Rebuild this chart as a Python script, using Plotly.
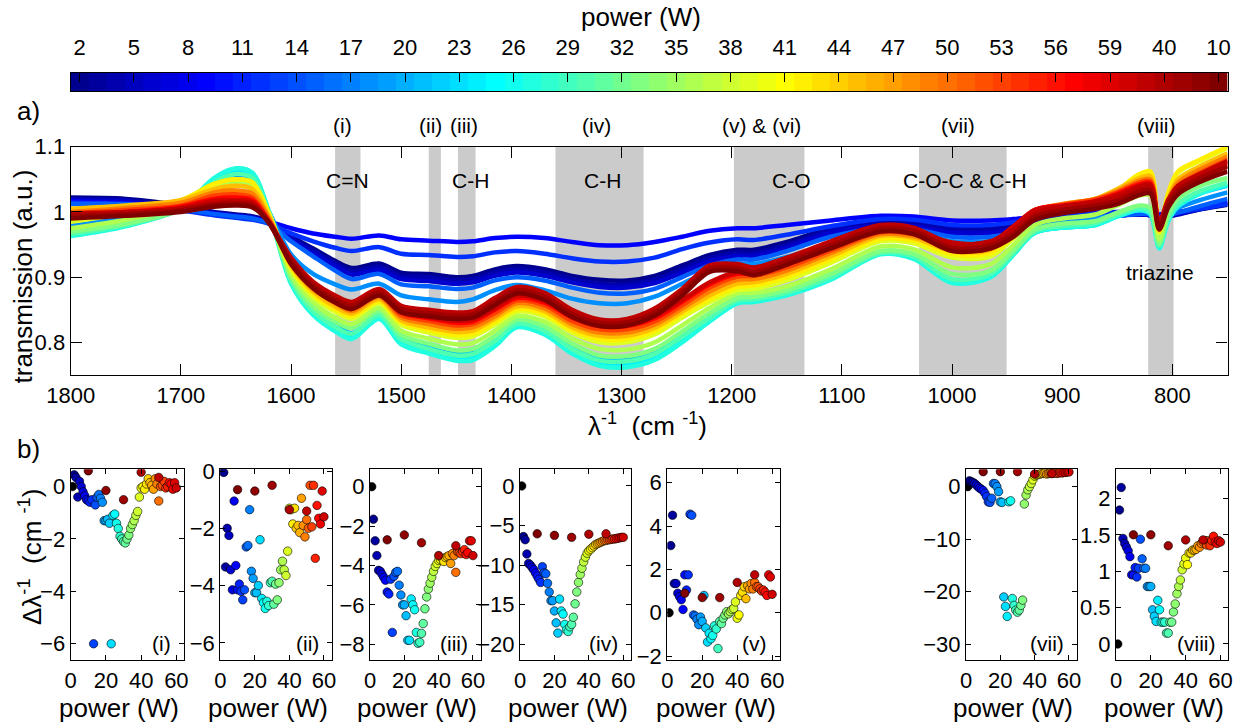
import plotly.graph_objects as go

FIG_W, FIG_H = 1239, 725
FONT = "Liberation Sans, Arial, Helvetica, sans-serif"

# ---------------------------------------------------------------- samples
# sample index 0..58 -> deposition power 2..60 W, 59..63 -> repeated runs
run_powers = list(range(2, 61))
after_powers = [50, 40, 30, 20, 10]
ref_power = 1

cbar_tickvals = list(range(0, 64, 3))
cbar_ticktext = [str(v) for v in range(2, 60, 3)] + ["40", "10"]

# ---------------------------------------------------------------- spectra
WN = [1800, 1750, 1700, 1670, 1650, 1635, 1620, 1600, 1580, 1560,
      1545, 1520, 1500, 1475, 1450, 1435, 1415, 1395, 1370, 1345,
      1320, 1295, 1270, 1245, 1220, 1195, 1180, 1150, 1110, 1065,
      1035, 1000, 965, 945, 925, 900, 870, 850, 830, 820,
      812, 804, 795, 775, 750]

T_P02 = [1.022, 1.02, 1.01, 1.0, 0.996, 0.993, 0.986, 0.963, 0.944, 0.925,
         0.914, 0.921, 0.907, 0.905, 0.9, 0.902, 0.912, 0.917, 0.912, 0.902,
         0.896, 0.895, 0.902, 0.918, 0.934, 0.942, 0.942, 0.954, 0.975, 0.985,
         0.984, 0.977, 0.976, 0.979, 0.984, 0.989, 0.994, 0.996, 0.997, 0.996,
         0.991, 0.994, 0.997, 1.004, 1.011]
T_P04 = [1.02, 1.018, 1.008, 0.999, 0.995, 0.992, 0.985, 0.961, 0.941, 0.921,
         0.909, 0.916, 0.902, 0.9, 0.895, 0.897, 0.907, 0.912, 0.907, 0.897,
         0.89, 0.889, 0.896, 0.912, 0.929, 0.937, 0.937, 0.949, 0.972, 0.982,
         0.981, 0.973, 0.972, 0.976, 0.982, 0.987, 0.992, 0.995, 0.996, 0.995,
         0.99, 0.993, 0.996, 1.004, 1.012]
T_P06 = [1.018, 1.016, 1.006, 0.998, 0.994, 0.991, 0.984, 0.958, 0.937, 0.917,
         0.904, 0.911, 0.897, 0.894, 0.89, 0.892, 0.902, 0.907, 0.902, 0.892,
         0.885, 0.884, 0.891, 0.907, 0.924, 0.932, 0.932, 0.945, 0.968, 0.979,
         0.978, 0.968, 0.968, 0.973, 0.98, 0.986, 0.991, 0.994, 0.996, 0.995,
         0.99, 0.993, 0.997, 1.006, 1.016]
T_P09 = [1.016, 1.013, 1.004, 0.997, 0.993, 0.99, 0.985, 0.975, 0.967, 0.962,
         0.959, 0.964, 0.958, 0.956, 0.954, 0.955, 0.96, 0.962, 0.96, 0.954,
         0.949, 0.949, 0.954, 0.962, 0.971, 0.975, 0.975, 0.98, 0.987, 0.994,
         0.993, 0.987, 0.987, 0.989, 0.992, 0.996, 0.999, 1.0, 1.0, 0.999,
         0.996, 0.998, 1.0, 1.006, 1.014]
T_P12 = [1.014, 1.011, 1.002, 0.995, 0.991, 0.988, 0.982, 0.967, 0.955, 0.945,
         0.94, 0.946, 0.936, 0.934, 0.931, 0.932, 0.938, 0.94, 0.936, 0.929,
         0.924, 0.924, 0.93, 0.943, 0.953, 0.958, 0.957, 0.965, 0.978, 0.989,
         0.988, 0.98, 0.98, 0.984, 0.989, 0.993, 0.997, 0.999, 0.999, 0.997,
         0.993, 0.996, 0.999, 1.005, 1.012]
T_P15 = [1.012, 1.012, 1.004, 0.997, 0.993, 0.99, 0.982, 0.955, 0.932, 0.91,
         0.897, 0.905, 0.889, 0.886, 0.882, 0.884, 0.895, 0.9, 0.895, 0.884,
         0.876, 0.875, 0.882, 0.9, 0.918, 0.927, 0.927, 0.94, 0.962, 0.975,
         0.974, 0.962, 0.962, 0.968, 0.977, 0.984, 0.99, 0.994, 0.997, 0.996,
         0.99, 0.995, 0.999, 1.009, 1.02]
T_P18 = [0.98, 0.992, 1.015, 1.043, 1.057, 1.05, 1.0, 0.935, 0.905, 0.889,
         0.881, 0.89, 0.872, 0.866, 0.862, 0.866, 0.88, 0.888, 0.88, 0.867,
         0.86, 0.86, 0.87, 0.89, 0.909, 0.92, 0.92, 0.931, 0.95, 0.969,
         0.967, 0.955, 0.955, 0.962, 0.975, 0.984, 0.99, 0.996, 1.003, 1.0,
         0.985, 0.998, 1.006, 1.018, 1.03]
T_P21 = [0.972, 0.985, 1.01, 1.047, 1.062, 1.055, 1.0, 0.91, 0.855, 0.828,
         0.814, 0.842, 0.808, 0.792, 0.782, 0.785, 0.805, 0.828, 0.818, 0.792,
         0.775, 0.774, 0.785, 0.812, 0.84, 0.862, 0.864, 0.876, 0.9, 0.937,
         0.93, 0.895, 0.903, 0.935, 0.968, 0.976, 0.98, 0.994, 1.003, 0.998,
         0.955, 0.992, 1.01, 1.028, 1.04]
T_P24 = [0.966, 0.98, 1.007, 1.05, 1.065, 1.058, 1.0, 0.895, 0.846, 0.82,
         0.808, 0.838, 0.8, 0.786, 0.776, 0.777, 0.797, 0.825, 0.815, 0.787,
         0.768, 0.766, 0.777, 0.804, 0.835, 0.862, 0.864, 0.874, 0.898, 0.936,
         0.93, 0.893, 0.901, 0.934, 0.968, 0.976, 0.98, 0.993, 1.003, 0.997,
         0.946, 0.988, 1.01, 1.029, 1.041]
T_P27 = [0.963, 0.978, 1.005, 1.052, 1.067, 1.06, 1.0, 0.89, 0.842, 0.817,
         0.805, 0.836, 0.797, 0.783, 0.772, 0.773, 0.794, 0.823, 0.812, 0.783,
         0.764, 0.762, 0.773, 0.8, 0.832, 0.86, 0.862, 0.872, 0.896, 0.935,
         0.928, 0.891, 0.9, 0.933, 0.968, 0.976, 0.98, 0.993, 1.003, 0.997,
         0.944, 0.985, 1.008, 1.028, 1.042]
T_P30 = [0.966, 0.98, 1.004, 1.045, 1.058, 1.052, 0.998, 0.895, 0.848, 0.824,
         0.813, 0.842, 0.805, 0.79, 0.78, 0.782, 0.802, 0.829, 0.818, 0.79,
         0.772, 0.771, 0.782, 0.809, 0.838, 0.864, 0.866, 0.876, 0.9, 0.937,
         0.932, 0.897, 0.905, 0.936, 0.97, 0.978, 0.983, 0.996, 1.006, 1.0,
         0.948, 0.99, 1.012, 1.032, 1.045]
T_P33 = [0.97, 0.982, 1.003, 1.03, 1.04, 1.035, 0.995, 0.9, 0.855, 0.832,
         0.822, 0.848, 0.812, 0.798, 0.788, 0.79, 0.81, 0.835, 0.825, 0.798,
         0.78, 0.779, 0.79, 0.817, 0.845, 0.868, 0.87, 0.88, 0.905, 0.94,
         0.936, 0.905, 0.91, 0.94, 0.973, 0.982, 0.986, 0.999, 1.01, 1.006,
         0.952, 0.995, 1.02, 1.04, 1.052]
T_P36 = [0.975, 0.988, 1.008, 1.035, 1.045, 1.04, 0.995, 0.905, 0.862, 0.838,
         0.828, 0.853, 0.818, 0.806, 0.797, 0.799, 0.818, 0.84, 0.832, 0.806,
         0.79, 0.789, 0.8, 0.826, 0.853, 0.875, 0.876, 0.886, 0.912, 0.947,
         0.943, 0.915, 0.92, 0.948, 0.98, 0.99, 0.996, 1.01, 1.025, 1.025,
         0.958, 1.008, 1.035, 1.055, 1.07]
T_P39 = [0.985, 0.998, 1.015, 1.042, 1.05, 1.045, 0.998, 0.912, 0.87, 0.847,
         0.836, 0.86, 0.827, 0.815, 0.807, 0.809, 0.827, 0.847, 0.84, 0.815,
         0.8, 0.8, 0.812, 0.838, 0.862, 0.88, 0.882, 0.895, 0.922, 0.955,
         0.952, 0.93, 0.932, 0.958, 0.99, 1.003, 1.01, 1.03, 1.055, 1.06,
         0.968, 1.025, 1.06, 1.078, 1.098]
T_P42 = [0.99, 1.002, 1.018, 1.043, 1.05, 1.045, 0.996, 0.915, 0.874, 0.851,
         0.84, 0.863, 0.831, 0.819, 0.811, 0.813, 0.831, 0.851, 0.844, 0.819,
         0.805, 0.805, 0.817, 0.843, 0.867, 0.885, 0.887, 0.9, 0.927, 0.959,
         0.956, 0.935, 0.937, 0.963, 0.995, 1.008, 1.015, 1.033, 1.058, 1.062,
         0.97, 1.028, 1.062, 1.08, 1.1]
T_P45 = [1.005, 1.01, 1.018, 1.035, 1.04, 1.035, 0.993, 0.918, 0.878, 0.855,
         0.844, 0.866, 0.834, 0.823, 0.816, 0.818, 0.836, 0.855, 0.848, 0.823,
         0.81, 0.81, 0.822, 0.847, 0.872, 0.89, 0.892, 0.905, 0.932, 0.963,
         0.96, 0.94, 0.942, 0.968, 1.0, 1.012, 1.02, 1.035, 1.052, 1.055,
         0.972, 1.02, 1.05, 1.07, 1.09]
T_P49 = [1.0, 1.006, 1.014, 1.03, 1.033, 1.028, 0.99, 0.922, 0.882, 0.86,
         0.848, 0.87, 0.838, 0.828, 0.821, 0.823, 0.84, 0.86, 0.852, 0.828,
         0.815, 0.815, 0.827, 0.852, 0.878, 0.896, 0.897, 0.91, 0.937, 0.966,
         0.963, 0.945, 0.946, 0.972, 1.002, 1.012, 1.02, 1.032, 1.048, 1.05,
         0.974, 1.016, 1.045, 1.065, 1.085]
T_P53 = [0.998, 1.003, 1.01, 1.025, 1.027, 1.022, 0.987, 0.924, 0.885, 0.863,
         0.852, 0.873, 0.842, 0.833, 0.826, 0.828, 0.845, 0.864, 0.857, 0.833,
         0.82, 0.82, 0.832, 0.857, 0.884, 0.901, 0.902, 0.915, 0.941, 0.969,
         0.966, 0.948, 0.949, 0.974, 1.003, 1.011, 1.019, 1.03, 1.045, 1.047,
         0.976, 1.013, 1.04, 1.06, 1.08]
T_P57 = [0.995, 1.0, 1.008, 1.02, 1.022, 1.018, 0.985, 0.926, 0.888, 0.866,
         0.855, 0.876, 0.846, 0.837, 0.83, 0.832, 0.85, 0.868, 0.861, 0.838,
         0.825, 0.825, 0.837, 0.862, 0.889, 0.905, 0.906, 0.92, 0.945, 0.972,
         0.969, 0.951, 0.952, 0.976, 1.003, 1.01, 1.017, 1.028, 1.042, 1.044,
         0.977, 1.01, 1.036, 1.056, 1.075]
T_P60 = [0.993, 0.998, 1.006, 1.017, 1.018, 1.015, 0.984, 0.927, 0.89, 0.868,
         0.857, 0.878, 0.848, 0.839, 0.833, 0.835, 0.852, 0.871, 0.864, 0.841,
         0.828, 0.828, 0.84, 0.865, 0.892, 0.908, 0.909, 0.923, 0.948, 0.974,
         0.971, 0.953, 0.954, 0.977, 1.003, 1.009, 1.016, 1.026, 1.04, 1.042,
         0.978, 1.008, 1.034, 1.052, 1.07]
T_A50 = [0.998, 1.0, 1.005, 1.013, 1.016, 1.013, 0.985, 0.93, 0.893, 0.872,
         0.862, 0.882, 0.856, 0.85, 0.846, 0.848, 0.868, 0.885, 0.876, 0.85,
         0.835, 0.836, 0.852, 0.882, 0.918, 0.92, 0.915, 0.93, 0.955, 0.98,
         0.976, 0.951, 0.955, 0.972, 0.998, 1.008, 1.015, 1.022, 1.038, 1.04,
         0.985, 1.018, 1.04, 1.058, 1.078]
T_A30 = [0.994, 0.997, 1.003, 1.011, 1.013, 1.01, 0.984, 0.925, 0.888, 0.866,
         0.856, 0.877, 0.851, 0.845, 0.841, 0.843, 0.862, 0.88, 0.87, 0.844,
         0.83, 0.831, 0.846, 0.877, 0.913, 0.914, 0.908, 0.924, 0.949, 0.975,
         0.971, 0.945, 0.949, 0.966, 0.993, 1.003, 1.01, 1.017, 1.032, 1.034,
         0.978, 1.012, 1.033, 1.052, 1.07]
T_A10 = [0.99, 0.994, 1.0, 1.008, 1.01, 1.007, 0.983, 0.92, 0.883, 0.861,
         0.851, 0.872, 0.846, 0.84, 0.836, 0.838, 0.857, 0.875, 0.865, 0.839,
         0.825, 0.826, 0.841, 0.872, 0.908, 0.909, 0.903, 0.919, 0.944, 0.97,
         0.966, 0.94, 0.944, 0.961, 0.988, 0.998, 1.005, 1.012, 1.026, 1.028,
         0.973, 1.006, 1.027, 1.046, 1.062]

# (sample index, spectrum) in acquisition order
spectra = [(0, T_P02), (2, T_P04), (4, T_P06), (7, T_P09), (10, T_P12),
           (13, T_P15), (16, T_P18), (19, T_P21), (22, T_P24), (25, T_P27),
           (28, T_P30), (31, T_P33), (34, T_P36), (37, T_P39), (40, T_P42),
           (43, T_P45), (47, T_P49), (51, T_P53), (55, T_P57), (58, T_P60),
           (59, T_A50), (61, T_A30), (63, T_A10)]

# highlighted absorption regions (cm-1)
band_lo = [1537, 1464, 1432.5, 1280, 1134, 950.5, 799]
band_hi = [1560, 1475, 1448.5, 1360, 1198, 1030, 822]

# ---------------------------------------------------------------- peak shifts
# values for powers 2..60, then repeated runs at 50,40,30,20,10 W
shift_i = [0.45, 0.35, -0.4, 0.2, 0.0, -0.2, -0.35, -0.5, -0.55, -0.6,
           -0.5, -6.0, -0.7, -0.4, -0.3, -0.45, -0.6, -1.3, -1.3, -1.25,
           -1.4, -6.0, -1.1, -1.05, -1.4, -1.6, -1.9, -2.0, -2.1, -2.15,
           -2.0, -1.85, -1.6, -1.45, -1.3, -1.1, -0.95, -0.4, -0.05, 0.0,
           -0.1, 0.1, 0.3, 0.15, 0.05, -0.1, 0.3, 0.1, -0.55, 0.0,
           0.05, 0.2, -0.05, 0.0, 0.15, 0.1, -0.1, 0.15, -0.05]
after_i = [0.35, 0.55, -0.5, -0.15, 0.6]
shift_ii = [-0.05, -3.35, -2.0, -2.25, -3.45, -4.15, -1.05, -3.3, -4.15, -3.95,
            -4.2, -4.5, -4.15, -2.65, -2.6, -1.35, -3.5, -3.75, -4.25, -4.25,
            -4.0, -2.4, -4.45, -4.6, -4.8, -4.55, -4.7, -3.9, -3.85, -4.65,
            -3.95, -4.5, -3.9, -3.45, -3.15, -3.45, -3.65, -2.8, -1.3, -1.35,
            -1.85, -1.3, -2.0, -1.9, -2.15, -0.95, -1.9, -2.3, -1.7, -2.0,
            -0.5, -1.95, -0.5, -3.05, -1.2, -1.65, -1.85, -0.7, -1.6]
after_ii = [-1.4, -1.35, -0.5, -0.7, -0.65]
shift_iii = [-1.65, -2.75, -3.5, -4.25, -4.3, -4.45, -4.6, -4.75, -5.35, -5.45,
             -4.7, -7.4, -4.55, -4.35, -4.3, -5.0, -5.5, -6.0, -6.0, -6.55,
             -7.8, -7.8, -5.7, -6.0, -6.25, -7.4, -7.95, -7.9, -7.45, -6.95,
             -6.2, -5.6, -5.2, -4.9, -4.6, -4.3, -4.05, -3.9, -3.75, -3.7,
             -3.65, -3.8, -3.6, -3.55, -3.5, -3.9, -3.4, -3.5, -4.35, -3.3,
             -3.35, -3.4, -3.3, -3.2, -3.45, -3.35, -2.75, -2.75, -3.5]
after_iii = [-3.0, -3.5, -2.85, -2.45, -2.7]
shift_iv = [-6.4, -6.8, -8.6, -9.8, -10.0, -10.3, -10.6, -11.0, -11.4, -11.8,
            -12.2, -10.2, -11.0, -11.1, -12.3, -13.4, -14.5, -14.5, -15.8, -17.3,
            -18.6, -14.3, -15.8, -16.2, -17.5, -18.2, -18.4, -17.8, -17.5, -16.6,
            -14.9, -13.4, -12.2, -11.2, -10.4, -9.6, -9.0, -8.5, -8.2, -8.0,
            -7.8, -7.6, -7.4, -7.3, -7.2, -7.1, -7.0, -6.9, -6.9, -6.8,
            -6.8, -6.75, -6.7, -6.7, -6.65, -6.6, -6.55, -6.5, -6.5]
after_iv = [-6.05, -6.1, -6.5, -6.25, -6.05]
shift_v = [3.1, 4.5, 1.35, 1.35, 0.9, 0.75, 0.6, 0.15, 1.75, 1.05,
           1.75, 4.55, 4.5, -0.1, -0.15, -0.3, -0.55, -0.2, -0.4, 0.8,
           -0.7, -1.35, -0.95, -1.2, -1.05, -0.6, -0.75, -1.65, -0.4, -0.5,
           -0.25, -0.1, 0.05, -0.05, 0.05, 0.15, 0.2, 0.5, -0.25, -0.1,
           0.8, 0.95, 1.2, 0.65, 1.25, 1.1, 1.35, 1.1, 1.4, 1.2,
           1.2, 1.1, 1.0, 1.05, 0.95, 0.8, 1.75, 1.65, 0.85]
after_v = [1.75, 1.4, 0.7, 0.7, 0.9]
shift_vii = [1.1, 0.95, 0.8, 0.6, 0.3, 0.0, -0.3, -0.5, -0.75, -1.25,
             -1.9, -2.9, -3.0, -2.2, 0.6, 0.55, 0.0, -0.95, -2.9, -3.0,
             -21.0, -22.8, -24.7, -2.9, -2.7, -21.3, -22.6, -23.5, -23.9, -23.5,
             -22.6, -21.6, -3.3, -1.6, -0.6, 0.0, 0.6, 1.3, 2.0, 2.2,
             2.3, 2.4, 2.5, 2.5, 2.6, 2.4, 2.5, 2.6, 2.5, 2.6,
             2.6, 2.5, 2.6, 2.7, 2.6, 2.7, 2.7, 2.8, 2.8]
after_vii = [2.5, 2.4, 2.85, 2.85, 2.85]
shift_viii = [1.84, 2.15, 1.45, 1.38, 1.33, 1.28, 1.2, 0.95, 0.95, 1.05,
              0.92, 1.04, 1.44, 1.17, 1.04, 1.04, 0.79, 0.79, 0.79, 0.47,
              0.38, 0.31, 0.6, 0.47, 0.3, 0.3, 0.3, 0.15, 0.15, 0.3,
              0.3, 0.44, 0.55, 0.69, 0.79, 0.88, 1.02, 1.1, 1.18, 1.09,
              1.25, 1.25, 1.29, 1.29, 1.3, 1.35, 1.33, 1.38, 1.4, 1.42,
              1.36, 1.42, 1.35, 1.42, 1.48, 1.4, 1.38, 1.42, 1.4]
after_viii = [1.43, 1.43, 1.35, 1.5, 1.5]

panel_names = ["(i)", "(ii)", "(iii)", "(iv)", "(v)", "(vii)", "(viii)"]
panel_shifts = [shift_i, shift_ii, shift_iii, shift_iv, shift_v, shift_vii, shift_viii]
panel_after = [after_i, after_ii, after_iii, after_iv, after_v, after_vii, after_viii]
panel_yrange = [[-6.62, 0.66], [-6.6, 0.06], [-8.8, 0.88], [-22.0, 2.1],
                [-2.18, 6.62], [-33.0, 3.3], [-0.22, 2.4]]
panel_yticks = [[-6, -4, -2, 0], [-6, -4, -2, 0], [-8, -6, -4, -2, 0],
                [-20, -15, -10, -5, 0], [-2, 0, 2, 4, 6], [-30, -20, -10, 0],
                [0, 0.5, 1, 1.5, 2]]
panel_xpx = [(70.7, 184.3), (220.3, 331.7), (370.0, 480.7), (520.0, 631.0),
             (667.3, 780.0), (966.0, 1076.7), (1116.0, 1228.3)]


# ---------------------------------------------------------------- colours
def jet(m=64):
    """MATLAB-style jet colormap with m entries."""
    n = m // 4
    u = [k / n for k in range(1, n + 1)] + [1.0] * (n - 1) + [k / n for k in range(n, 0, -1)]
    off = n // 2 - (1 if m % 4 == 1 else 0)
    rgb = [[0.0, 0.0, 0.0] for _ in range(m)]
    for k, val in enumerate(u, start=1):
        g = off + k
        r = g + n
        b = g - n
        if 1 <= r <= m:
            rgb[r - 1][0] = val
        if 1 <= g <= m:
            rgb[g - 1][1] = val
        if 1 <= b <= m:
            rgb[b - 1][2] = val
    return ["rgb(%d,%d,%d)" % tuple(round(255 * c) for c in col) for col in rgb]


JET = jet(64)


def px_x(px):
    return px / FIG_W


def px_y(py):
    return 1 - py / FIG_H


fig = go.Figure()

# ---------------------------------------------------------------- main spectra
for idx, vals in spectra:
    fig.add_trace(go.Scatter(
        x=WN, y=vals, mode="lines", xaxis="x", yaxis="y",
        line=dict(color=JET[idx], width=4.5, shape="spline", smoothing=0.9),
        hoverinfo="skip", showlegend=False))

for lo, hi in zip(band_lo, band_hi):
    fig.add_shape(type="rect", xref="x", yref="y domain", x0=lo, x1=hi, y0=0, y1=1,
                  fillcolor="#cbcbcb", line_width=0, layer="below")

# ---------------------------------------------------------------- colour bar strip
cs = []
for i, c in enumerate(JET):
    cs.append([i / 64, c])
    cs.append([(i + 1) / 64, c])
fig.add_trace(go.Heatmap(
    z=[list(range(64))], x=list(range(64)), y=[0], xaxis="x2", yaxis="y2",
    colorscale=cs, zmin=-0.5, zmax=63.5, showscale=False, hoverinfo="skip"))

# ---------------------------------------------------------------- shift panels
for k in range(7):
    ax = str(3 + k)
    xs = [ref_power] + run_powers + after_powers
    ys = [0.0] + panel_shifts[k] + panel_after[k]
    cols = ["black"] + [JET[p - 2] for p in run_powers] + [JET[59 + j] for j in range(5)]
    fig.add_trace(go.Scatter(
        x=xs, y=ys, mode="markers", xaxis="x" + ax, yaxis="y" + ax,
        marker=dict(size=8.5, color=cols, line=dict(color="black", width=0.6)),
        cliponaxis=True, hoverinfo="skip", showlegend=False))

# ---------------------------------------------------------------- layout
tick_font = dict(family=FONT, size=22, color="black")
common_axis = dict(showline=True, linecolor="black", linewidth=1.2, showgrid=False,
                   zeroline=False, ticks="inside", tickcolor="black", tickwidth=1.2,
                   tickfont=tick_font, automargin=False)

layout = dict(
    width=FIG_W, height=FIG_H, margin=dict(l=0, r=0, t=0, b=0, pad=0, autoexpand=False),
    paper_bgcolor="white", plot_bgcolor="rgba(0,0,0,0)",
    font=dict(family=FONT, color="black"), showlegend=False,
    xaxis=dict(common_axis, domain=[px_x(70.7), px_x(1227.5)], range=[1800, 750],
               tickvals=list(range(1800, 799, -100)), ticklen=11, mirror="ticks",
               anchor="y"),
    yaxis=dict(common_axis, domain=[px_y(375), px_y(146.7)], range=[0.75, 1.1],
               tickvals=[0.8, 0.9, 1.0, 1.1], ticktext=["0.8", "0.9", "1", "1.1"],
               ticklen=11, mirror="ticks", anchor="x"),
    xaxis2=dict(common_axis, domain=[px_x(70.7), px_x(1227.5)], range=[-0.5, 63.5],
                side="top", tickvals=cbar_tickvals, ticktext=cbar_ticktext,
                ticklen=9, mirror=True, anchor="y2", ticklabelstandoff=8),
    yaxis2=dict(showline=True, linecolor="black", linewidth=1.2, mirror=True,
                showgrid=False, zeroline=False, showticklabels=False, ticks="",
                automargin=False,
                domain=[px_y(91), px_y(73)], range=[-0.5, 0.5], anchor="x2"),
)

for k in range(7):
    ax = str(3 + k)
    l, r = panel_xpx[k]
    layout["xaxis" + ax] = dict(common_axis, domain=[px_x(l), px_x(r)], range=[0, 64.5],
                                tickvals=[0, 20, 40, 60], ticklen=5, mirror="ticks",
                                anchor="y" + ax)
    layout["yaxis" + ax] = dict(common_axis, domain=[px_y(660), px_y(469.3)],
                                range=panel_yrange[k], tickvals=panel_yticks[k],
                                ticklen=5, mirror="ticks", anchor="x" + ax)

fig.update_layout(**layout)

# ---------------------------------------------------------------- text
ann = []


def text(x, y, s, size=21, xref="paper", yref="paper", angle=0, xanchor="center",
         yanchor="middle"):
    ann.append(dict(x=x, y=y, xref=xref, yref=yref, text=s, showarrow=False,
                    textangle=angle, xanchor=xanchor, yanchor=yanchor,
                    font=dict(family=FONT, size=size, color="black")))


text(px_x(641), px_y(17), "power (W)", size=26)
text(px_x(28.5), px_y(111), "a)", size=26)
text(px_x(28.5), px_y(449), "b)", size=26)

# region numerals above the spectra and assignments inside
for wn, s in [(1553, "(i)"), (1473, "(ii)"), (1443, "(iii)"), (1323, "(iv)"),
              (1173, "(v) &amp; (vi)"), (995, "(vii)"), (815, "(viii)")]:
    text(wn, px_y(125), s, size=21, xref="x")
for wn, s in [(1549, "C=N"), (1437, "C-H"), (1317, "C-H"), (1146, "C-O"),
              (988, "C-O-C &amp; C-H")]:
    text(wn, px_y(180), s, size=21, xref="x")
text(811, px_y(272.7), "triazine", size=21, xref="x")

text(px_x(647), px_y(425), "λ<sup>-1</sup>  (cm <sup>-1</sup>)", size=26)
text(px_x(22.5), px_y(277), "transmission (a.u.)", size=26, angle=-90)
text(px_x(30), px_y(557), "Δλ<sup>-1</sup>  (cm <sup>-1</sup>)", size=26, angle=-90)

for k in range(7):
    ax = str(3 + k)
    l, r = panel_xpx[k]
    text(px_x((l + r) / 2 - 8), px_y(708), "power (W)", size=26)
    text(1 - 11 / (r - l), 0.085, panel_names[k], size=21,
         xref="x" + ax + " domain", yref="y" + ax + " domain", xanchor="right")

fig.update_layout(annotations=ann)
fig.write_html("out.html")
